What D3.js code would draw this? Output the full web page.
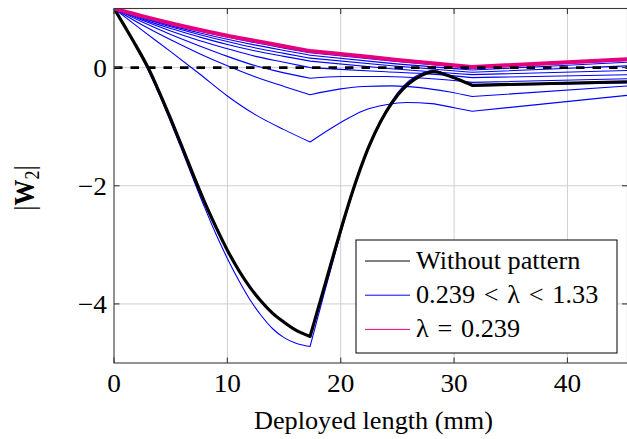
<!DOCTYPE html>
<html>
<head>
<meta charset="utf-8">
<script src="https://cdn.jsdelivr.net/npm/d3@7"></script>
<style>
  html, body { margin: 0; padding: 0; background: #fff; }
  svg { display: block; }
  text { font-family: "Liberation Serif", "Times New Roman", serif; fill: #000; }
</style>
</head>
<body>
<div id="chart"></div>
<script>
// --------------------------------------------
// DONNEES
// --------------------------------------------
const xTicks = [0, 10, 20, 30, 40];
const yTicks = [-4, -2, 0];
const xDomain = [0, 45.3];
const yDomain = [-5, 1];
const kinks = [17.3, 31.6];

const legendLabels = ["Without pattern", "0.239\u2004<\u2004λ\u2004<\u20041.33", "λ\u2004=\u20040.239"];

const withoutPattern = [
  [0, 1], [1, 0.68], [2, 0.35], [3, 0], [4, -0.42], [5, -0.87], [6, -1.34], [7, -1.82], [8, -2.28], [9, -2.7],
  [10, -3.09], [11, -3.43], [12, -3.72], [13, -3.96], [14, -4.16], [15, -4.31], [16, -4.44], [17.3, -4.55],
  [18.5, -3.75], [19.5, -3.08], [20.5, -2.43], [21.5, -1.84], [22.5, -1.33], [23.5, -0.92], [24.5, -0.6],
  [25.5, -0.36], [26.5, -0.2], [27.5, -0.1], [28.2, -0.07], [29.4, -0.13], [30.5, -0.21], [31.6, -0.3],
  [45.3, -0.24],
];

const lambdaMin = [
  [0, 1], [2.5, 0.87], [5, 0.75], [7.5, 0.64], [10, 0.54], [12.5, 0.45], [15, 0.36], [17.3, 0.28],
  [20, 0.23], [25, 0.13], [31.6, 0.01],
  [45.3, 0.14],
];

const blue1 = [
  [0, 1], [2.5, 0.86], [5, 0.73], [7.5, 0.62], [10, 0.52], [12.5, 0.42], [15, 0.33], [17.3, 0.25],
  [24, 0.12], [31.6, -0.01],
  [45.3, 0.12],
];
const blue2 = [
  [0, 1], [2.5, 0.85], [5, 0.71], [7.5, 0.59], [10, 0.48], [12.5, 0.38], [15, 0.29], [17.3, 0.21],
  [24, 0.08], [31.6, -0.04],
  [45.3, 0.09],
];
const blue3 = [
  [0, 1], [2.5, 0.84], [5, 0.69], [7.5, 0.56], [10, 0.44], [12.5, 0.33], [15, 0.24], [17.3, 0.16],
  [24, 0.04], [31.6, -0.08],
  [45.3, 0.03],
];
const blue4 = [
  [0, 1], [2.5, 0.82], [5, 0.66], [7.5, 0.52], [10, 0.39], [12.5, 0.28], [15, 0.19], [17.3, 0.11],
  [24, -0.01], [31.6, -0.12],
  [45.3, -0.05],
];
const blue5 = [
  [0, 1], [2.5, 0.8], [5, 0.62], [7.5, 0.46], [10, 0.32], [12.5, 0.19], [15, 0.09], [17.3, 0.0],
  [20, -0.03], [24, -0.07], [28, -0.11], [31.6, -0.17],
  [45.3, -0.12],
];
const blue6 = [
  [0, 1], [2.5, 0.77], [5, 0.56], [7.5, 0.37], [10, 0.19], [12.5, 0.03], [15, -0.09], [17.3, -0.18],
  [20, -0.15], [24, -0.15], [28, -0.19], [31.6, -0.25],
  [45.3, -0.19],
];
const blue7 = [
  [0, 1], [2.5, 0.72], [5, 0.47], [7.5, 0.24], [10, 0.03], [12.5, -0.16], [15, -0.32], [17.3, -0.46],
  [20, -0.36], [22, -0.32], [24.5, -0.31], [27, -0.34], [29.5, -0.41], [31.6, -0.49],
  [45.3, -0.31],
];
const blue8 = [
  [0, 1], [2.5, 0.63], [5, 0.27], [7.5, -0.1], [10, -0.48], [12.5, -0.8], [15, -1.05], [17.3, -1.26],
  [20, -0.93], [22, -0.73], [24, -0.63], [25.8, -0.59], [28, -0.61], [30, -0.68], [31.6, -0.74],
  [45.3, -0.47],
];
const blue9 = [
  [0, 1], [1, 0.67], [2, 0.33], [3, -0.04], [4, -0.46], [5, -0.92], [6, -1.4], [7, -1.89], [8, -2.37], [9, -2.82],
  [10, -3.23], [11, -3.6], [12, -3.93], [13, -4.2], [14, -4.42], [15, -4.57], [16, -4.66], [17.3, -4.72],
  [18.5, -3.85], [19.5, -3.15], [20.5, -2.47], [21.5, -1.86], [22.5, -1.33], [23.5, -0.9], [24.5, -0.57],
  [25.5, -0.32], [26.5, -0.16], [27.5, -0.07], [28.2, -0.05], [29.4, -0.12], [30.5, -0.22], [31.6, -0.31],
  [45.3, -0.26],
];
const blueCurves = [blue1, blue2, blue3, blue4, blue5, blue6, blue7, blue8, blue9];

// --------------------------------------------
// MISE EN PAGE
// --------------------------------------------
const W = 627, H = 439;
const plot = { left: 114, right: 627.5, top: 8.5, bottom: 363 };
const SX = 1.05; // le texte de la figure est un peu étiré horizontalement
const FONT = 25;
const TICK_FONT = 26;

const colBlue = "#0000ff";
const colMagenta = "#e6007e";
const colGrid = "#cfcfcf";
const colAxis = "#3a3a3a";

const x = d3.scaleLinear().domain(xDomain).range([plot.left, plot.right]);
const y = d3.scaleLinear().domain(yDomain).range([plot.bottom, plot.top]);

const svg = d3.select("#chart").append("svg").attr("width", W).attr("height", H);

svg.append("defs").append("clipPath").attr("id", "clip")
  .append("rect")
  .attr("x", plot.left).attr("y", plot.top)
  .attr("width", plot.right - plot.left).attr("height", plot.bottom - plot.top);

// grille
const grid = svg.append("g");
grid.selectAll("line.gx").data(xTicks.slice(1)).enter().append("line")
  .attr("x1", (d) => x(d)).attr("x2", (d) => x(d))
  .attr("y1", plot.top).attr("y2", plot.bottom)
  .attr("stroke", colGrid).attr("stroke-width", 1);
grid.selectAll("line.gy").data(yTicks).enter().append("line")
  .attr("x1", plot.left).attr("x2", plot.right)
  .attr("y1", (d) => y(d)).attr("y2", (d) => y(d))
  .attr("stroke", colGrid).attr("stroke-width", 1);

// --------------------------------------------
// COURBES
// --------------------------------------------
const lineGen = d3.line().x((d) => x(d[0])).y((d) => y(d[1])).curve(d3.curveMonotoneX);

const splitSegments = (pts) => {
  // coupe la courbe aux points anguleux (les points de coupe sont dans les deux morceaux)
  const segs = [[]];
  pts.forEach((p) => {
    segs[segs.length - 1].push(p);
    if (kinks.includes(p[0])) segs.push([p]);
  });
  return segs.filter((s) => s.length > 1);
};

const pathOf = (pts) => splitSegments(pts).map((s) => lineGen(s)).join("");

const curves = svg.append("g").attr("clip-path", "url(#clip)");

curves.selectAll("path.blue").data(blueCurves).enter().append("path")
  .attr("d", pathOf)
  .attr("fill", "none").attr("stroke", colBlue).attr("stroke-width", 1.1)
  .attr("stroke-linejoin", "round").attr("stroke-linecap", "round");

curves.append("path").attr("d", pathOf(withoutPattern))
  .attr("fill", "none").attr("stroke", "#000").attr("stroke-width", 3.2)
  .attr("stroke-linejoin", "round").attr("stroke-linecap", "round");

curves.append("path").attr("d", pathOf(lambdaMin))
  .attr("fill", "none").attr("stroke", colMagenta).attr("stroke-width", 4)
  .attr("stroke-linejoin", "round").attr("stroke-linecap", "round");

curves.append("line")
  .attr("x1", x(xDomain[0])).attr("x2", x(xDomain[1]))
  .attr("y1", y(0)).attr("y2", y(0))
  .attr("stroke", "#000").attr("stroke-width", 2.6).attr("stroke-dasharray", "8.5,8");

// --------------------------------------------
// AXES
// --------------------------------------------
const axes = svg.append("g").attr("stroke", colAxis).attr("stroke-width", 1.1);
axes.append("rect")
  .attr("x", plot.left).attr("y", plot.top)
  .attr("width", plot.right - plot.left).attr("height", plot.bottom - plot.top)
  .attr("fill", "none");

const tk = 5.5;
xTicks.forEach((t) => {
  axes.append("line").attr("x1", x(t)).attr("x2", x(t)).attr("y1", plot.bottom).attr("y2", plot.bottom - tk);
  axes.append("line").attr("x1", x(t)).attr("x2", x(t)).attr("y1", plot.top).attr("y2", plot.top + tk);
});
yTicks.forEach((t) => {
  axes.append("line").attr("x1", plot.left).attr("x2", plot.left + tk).attr("y1", y(t)).attr("y2", y(t));
  axes.append("line").attr("x1", plot.right).attr("x2", plot.right - tk).attr("y1", y(t)).attr("y2", y(t));
});

const addText = (g, px, py, txt, anchor, size = FONT) =>
  g.append("text")
    .attr("transform", `translate(${px},${py}) scale(${SX},1)`)
    .attr("text-anchor", anchor)
    .attr("font-size", size)
    .text(txt);

const labels = svg.append("g");
xTicks.forEach((t) => addText(labels, x(t), 391.5, String(t), "middle", TICK_FONT));
yTicks.forEach((t) => addText(labels, 107, y(t) + 9, t < 0 ? "\u2212" + Math.abs(t) : String(t), "end", TICK_FONT));

addText(labels, 373.5, 429, "Deployed length (mm)", "middle");

// |W2|
const yl = labels.append("text")
  .attr("transform", "translate(34,188) rotate(-90) scale(1,1.15)")
  .attr("text-anchor", "middle")
  .attr("font-size", 26);
yl.append("tspan").text("|");
yl.append("tspan").attr("font-weight", "bold").text("W");
yl.append("tspan").attr("font-size", 18).attr("dy", 4).text("2");
yl.append("tspan").attr("dy", -4).text("|");

// --------------------------------------------
// LEGENDE
// --------------------------------------------
const legend = svg.append("g");
legend.append("rect")
  .attr("x", 356).attr("y", 240).attr("width", 261).attr("height", 113)
  .attr("fill", "#fff").attr("stroke", "#000").attr("stroke-width", 1);

const legendColors = ["#000", colBlue, colMagenta];
legendLabels.forEach((lab, i) => {
  const ly = 261 + i * 34.2;
  legend.append("line")
    .attr("x1", 365).attr("x2", 410).attr("y1", ly).attr("y2", ly)
    .attr("stroke", legendColors[i]).attr("stroke-width", 1);
  addText(legend, 416, ly + 7.5, lab, "start");
});
</script>
</body>
</html>
